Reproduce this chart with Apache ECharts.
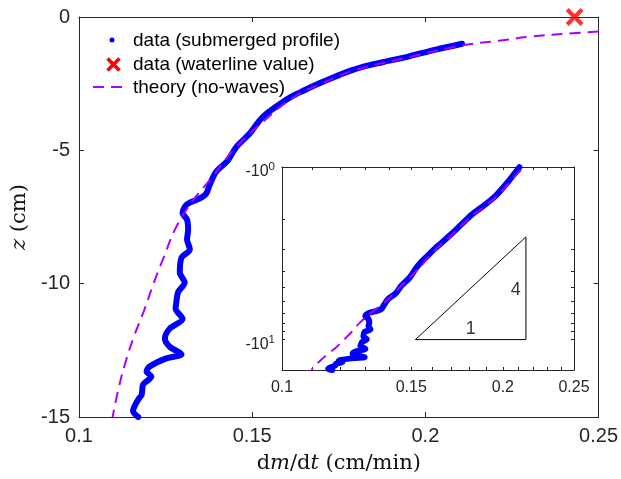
<!DOCTYPE html>
<html><head><meta charset="utf-8">
<script src="https://cdn.jsdelivr.net/npm/echarts@6/dist/echarts.min.js"></script>
<style>html,body{margin:0;padding:0;background:#fff}#c{width:621px;height:479px}</style>
</head><body><div id="c"></div>
<script>
// submerged profile data (dm/dt in cm/min, z in cm)
const dataX = [0.2106,0.2030,0.1953,0.1876,0.1819,0.1780,0.1732,0.1694,0.1646,0.1617,0.1579,0.1540,0.1521,0.1492,0.1454,0.1430,0.1396,0.1377,0.1368,0.1358,0.1339,0.1310,0.1299,0.1312,0.1315,0.1312,0.1320,0.1296,0.1291,0.1305,0.1286,0.1281,0.1279,0.1299,0.1262,0.1248,0.1262,0.1296,0.1252,0.1204,0.1195,0.1209,0.1185,0.1181,0.1171,0.1156,0.1171];
const dataZ = [-1.003,-1.225,-1.474,-1.697,-1.868,-2.031,-2.276,-2.488,-2.774,-2.960,-3.268,-3.639,-3.888,-4.382,-4.876,-5.373,-5.804,-6.301,-6.610,-6.732,-6.858,-7.044,-7.352,-7.601,-7.973,-8.344,-8.715,-9.023,-9.580,-9.952,-10.323,-10.694,-10.943,-11.315,-11.686,-12.057,-12.365,-12.651,-12.800,-13.108,-13.294,-13.479,-13.788,-14.159,-14.345,-14.779,-15.0];
// theory (no-waves)
const theoryX = [0.2500,0.2404,0.2308,0.2212,0.2106,0.1955,0.1795,0.1700,0.1620,0.1525,0.1445,0.1385,0.1322,0.1276,0.1245,0.1215,0.1188,0.1158,0.1133,0.1113,0.1097];
const theoryZ = [-0.546,-0.631,-0.731,-0.891,-1.066,-1.5,-2,-2.5,-3,-4,-5,-6,-7,-8,-9,-10,-11,-12,-13,-14,-15];
// waterline value
const waterX = [0.2431];
const waterZ = [0];
// tick values
const insetXLabels = [0.1,0.15,0.2,0.25];
const insetXTicks = [0.1,0.11,0.12,0.13,0.14,0.15,0.16,0.17,0.18,0.19,0.2,0.21,0.22,0.23,0.24,0.25];
const insetYLabels = [1,10];
const insetYTicks = [1,2,3,4,5,6,7,8,9,10];
// slope triangle (inset)
const triX = [0.152,0.215,0.215,0.152];
const triZ = [10,10,2.54,10];
const triLabels = [{x:0.1808,z:8.67,t:'1'},{x:0.2083,z:5.19,t:'4'}];

const BLUE='#0000ff', PURPLE='#aa00ff', RED='#ff0000', AX='#262626';
const SANS='Liberation Sans, Arial, Helvetica, sans-serif';
const SERIF='DejaVu Serif, serif';
const zip=(a,b)=>a.map((v,i)=>[v,b[i]]);
const zipAbs=(a,b)=>a.map((v,i)=>[v,Math.abs(b[i])]);
const XPATH='path://M40,0H60V40H100V60H60V100H40V60H0V40H40Z';

const mainAx = (pos, show) => ({
  axisLine:{show:true,onZero:false,lineStyle:{color:AX,width:1}},
  axisTick:{show:true,inside:true,length:5,lineStyle:{color:AX}},
  axisLabel:{show:show,color:AX,fontFamily:SANS,fontSize:20,margin:9},
  splitLine:{show:false}
});
const insetX = (pos, show) => ({
  type:'log', gridIndex:1, position:pos, min:0.1, max:0.25, logBase:10,
  axisLine:{show:true,onZero:false,lineStyle:{color:AX,width:1}},
  axisTick:{show:true,inside:true,length:3,customValues:insetXTicks,lineStyle:{color:AX}},
  axisLabel:{show:show,customValues:insetXLabels,color:AX,fontFamily:SANS,fontSize:16,margin:10,
    formatter:v=>String(Math.round(v*100)/100)},
  splitLine:{show:false}, minorTick:{show:false}
});
const insetY = (pos, show) => ({
  type:'log', gridIndex:1, position:pos, min:1, max:15, inverse:true, logBase:10,
  axisLine:{show:true,onZero:false,lineStyle:{color:AX,width:1}},
  axisTick:{show:true,inside:true,length:3,customValues:insetYTicks,lineStyle:{color:AX}},
  axisLabel:{show:show,customValues:insetYLabels,color:AX,fontFamily:SANS,fontSize:16,margin:7,
    padding:[10,0,0,0],
    formatter:v=>'-10{s|'+Math.round(Math.log10(v))+'}',
    rich:{s:{fontSize:11.5,fontFamily:SANS,color:AX,padding:[0,0,10,0]}}},
  splitLine:{show:false}, minorTick:{show:false}
});

const chart = echarts.init(document.getElementById('c'), null, {renderer:'canvas'});
chart.setOption({
  animation:false,
  backgroundColor:'#fff',
  grid:[
    {left:79, top:17, width:521, height:404, containLabel:false},
    {left:282, top:167, width:292, height:203, show:true, backgroundColor:'#fff', borderWidth:0, z:3}
  ],
  xAxis:[
    Object.assign({type:'value',gridIndex:0,position:'bottom',min:0.1,max:0.25,interval:0.05,
      name:'d{i|m}/d{i|t} (cm/min)',nameLocation:'middle',nameGap:36,
      nameTextStyle:{fontFamily:SERIF,fontSize:21,color:'#111',rich:{i:{fontFamily:SERIF,fontSize:21,fontStyle:'italic',color:'#111'}}}}, mainAx('bottom',true)),
    Object.assign({type:'value',gridIndex:0,position:'top',min:0.1,max:0.25,interval:0.05}, mainAx('top',false)),
    Object.assign(insetX('bottom',true),{z:4}),
    Object.assign(insetX('top',false),{z:4})
  ],
  yAxis:[
    Object.assign({type:'value',gridIndex:0,position:'left',min:-15,max:0,interval:5,
      name:'{i|z} (cm)',nameLocation:'middle',nameGap:45,
      nameTextStyle:{fontFamily:SERIF,fontSize:21,color:'#111',rich:{i:{fontFamily:SERIF,fontSize:21,fontStyle:'italic',color:'#111'}}}}, mainAx('left',true)),
    Object.assign({type:'value',gridIndex:0,position:'right',min:-15,max:0,interval:5}, mainAx('right',false)),
    Object.assign(insetY('left',true),{z:4}),
    Object.assign(insetY('right',false),{z:4})
  ],
  series:[
    {type:'line',name:'data (submerged profile)',xAxisIndex:0,yAxisIndex:0,data:zip(dataX,dataZ),
      symbol:'none',smooth:0.3,lineStyle:{color:BLUE,width:6,cap:'round',join:'round'},z:2},
    {type:'line',name:'theory (no-waves)',xAxisIndex:0,yAxisIndex:0,data:zip(theoryX,theoryZ),
      symbol:'none',smooth:0.4,lineStyle:{color:PURPLE,width:2,type:[11,7]},z:3},
    {type:'scatter',name:'data (waterline value)',xAxisIndex:0,yAxisIndex:0,data:zip(waterX,waterZ),
      symbol:XPATH,symbolSize:21,symbolRotate:45,clip:false,itemStyle:{color:RED},z:5},
    {type:'line',xAxisIndex:2,yAxisIndex:2,data:zipAbs(dataX,dataZ),
      symbol:'none',smooth:0.3,lineStyle:{color:BLUE,width:6,cap:'round',join:'round'},z:6},
    {type:'line',xAxisIndex:2,yAxisIndex:2,data:zipAbs(theoryX,theoryZ),
      symbol:'none',smooth:0.4,lineStyle:{color:PURPLE,width:2,type:[11,7]},z:7},
    {type:'line',xAxisIndex:2,yAxisIndex:2,data:zip(triX,triZ),
      symbol:'none',lineStyle:{color:'#000',width:1},z:6},
    {type:'scatter',xAxisIndex:2,yAxisIndex:2,data:triLabels.map(d=>({value:[d.x,d.z],name:d.t})),
      symbolSize:0,z:8,
      label:{show:true,position:'inside',formatter:p=>p.name,color:'#000',fontFamily:SANS,fontSize:18}}
  ],
  graphic:[
    {type:'circle',shape:{cx:112,cy:40,r:2.5},style:{fill:BLUE},z:100},
    {type:'line',shape:{x1:107.5,y1:58.5,x2:119.5,y2:70.5},style:{stroke:RED,lineWidth:3.5},z:100},
    {type:'line',shape:{x1:107.5,y1:70.5,x2:119.5,y2:58.5},style:{stroke:RED,lineWidth:3.5},z:100},
    {type:'line',shape:{x1:93,y1:87,x2:122,y2:87},style:{stroke:PURPLE,lineWidth:2,lineDash:[11,7]},z:100},
    {type:'text',x:133,y:41,style:{text:'data (submerged profile)',font:'19px '+SANS,fill:'#000',verticalAlign:'middle'},z:100},
    {type:'text',x:133,y:65,style:{text:'data (waterline value)',font:'19px '+SANS,fill:'#000',verticalAlign:'middle'},z:100},
    {type:'text',x:133,y:88,style:{text:'theory (no-waves)',font:'19px '+SANS,fill:'#000',verticalAlign:'middle'},z:100}
  ]
});
</script></body></html>
